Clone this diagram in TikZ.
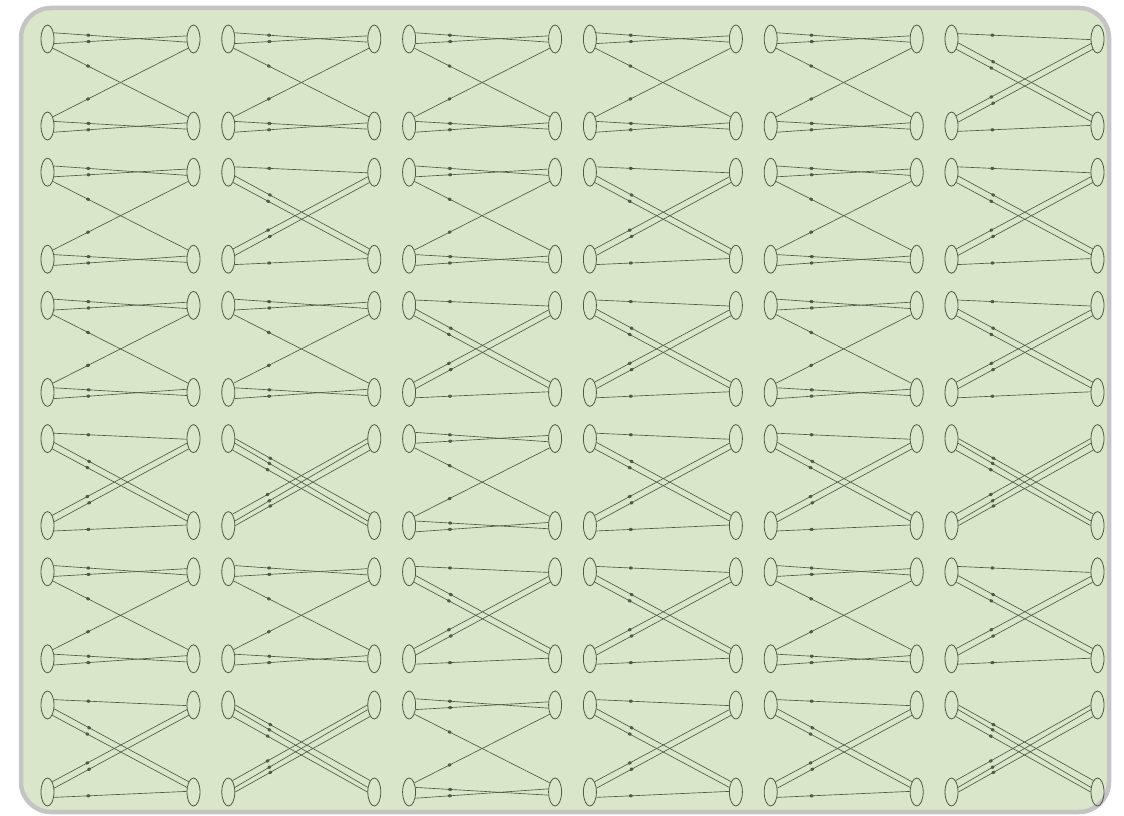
\documentclass[tikz,border=0pt]{standalone}
\usepackage{tikz}
\usetikzlibrary{shapes.geometric,decorations.markings}
\definecolor{panelbg}{RGB}{218,230,201}
\definecolor{framegray}{RGB}{196,196,196}
\definecolor{inkgreen}{RGB}{78,90,68}
\begin{document}
\begin{tikzpicture}[x=1pt,y=-1pt,line width=.65pt,font=\tiny,
  vtx/.style={draw=inkgreen,ellipse,minimum width=13pt,minimum height=28pt,inner sep=0pt,line width=.8pt},
  lnk/.style={draw=inkgreen,postaction={decorate},
    decoration={markings,mark=at position .26 with {\fill[inkgreen] (0,0) ellipse (2pt and 1.6pt);}}}]
\useasboundingbox (0,0) rectangle (1124,816);
\draw[framegray,fill=panelbg,line width=4.5pt,rounded corners=30pt] (21,8) rectangle (1109,812);
\foreach \k [count=\n from 0] in {2,2,2,2,2,1, 2,1,2,1,2,1, 2,2,1,1,2,1, 1,0,2,1,1,0, 2,2,1,1,2,1, 1,0,2,1,1,0}{
  \pgfmathtruncatemacro\r{int(\n/6)}\pgfmathtruncatemacro\c{mod(\n,6)}
  \pgfmathsetmacro\xl{47.5+180.8*\c}\pgfmathsetmacro\xr{\xl+146}
  \pgfmathsetmacro\yt{39+133.2*\r}\pgfmathsetmacro\yb{\yt+87}
  \node[vtx] (tl\n) at (\xl,\yt) {};\node[vtx] (tr\n) at (\xr,\yt) {};
  \node[vtx] (bl\n) at (\xl,\yb) {};\node[vtx] (br\n) at (\xr,\yb) {};
  \ifcase\k
    \draw[lnk] (tl\n.0)--(br\n.110);\draw[lnk] (tl\n.-35)--(br\n.145);\draw[lnk] (tl\n.-70)--(br\n.180);
    \draw[lnk] (bl\n.0)--(tr\n.-110);\draw[lnk] (bl\n.35)--(tr\n.-145);\draw[lnk] (bl\n.70)--(tr\n.180);
  \or
    \draw[lnk] (tl\n.40)--(tr\n.185);\draw[lnk] (tl\n.-30)--(br\n.115);\draw[lnk] (tl\n.-65)--(br\n.145);
    \draw[lnk] (bl\n.30)--(tr\n.-115);\draw[lnk] (bl\n.65)--(tr\n.-145);\draw[lnk] (bl\n.-40)--(br\n.175);
  \or
    \draw[lnk] (tl\n.45)--(tr\n.205);\draw[lnk] (tl\n.-35)--(tr\n.155);\draw[lnk] (tl\n.-60)--(br\n.120);
    \draw[lnk] (bl\n.60)--(tr\n.-120);\draw[lnk] (bl\n.35)--(br\n.205);\draw[lnk] (bl\n.-45)--(br\n.155);
  \fi
}
\end{tikzpicture}
\end{document}
